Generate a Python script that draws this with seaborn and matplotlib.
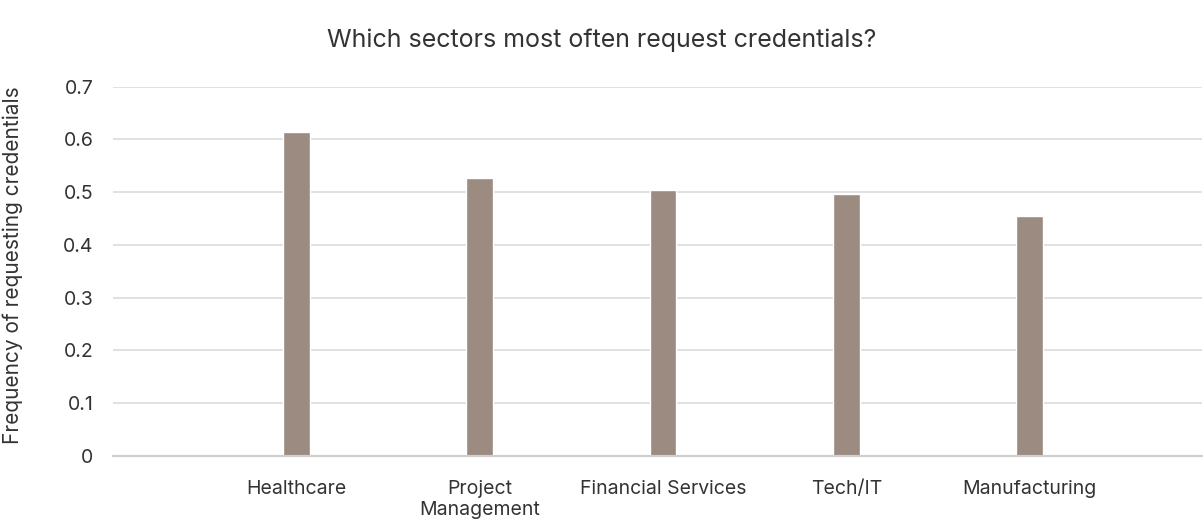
import matplotlib
matplotlib.use("Agg")
import matplotlib.pyplot as plt
import seaborn as sns
import pandas as pd

categories = ["Healthcare", "Project\nManagement", "Financial Services", "Tech/IT", "Manufacturing"]
values = [0.614, 0.527, 0.504, 0.497, 0.454]
y_ticks = [0, 0.1, 0.2, 0.3, 0.4, 0.5, 0.6, 0.7]
y_tick_labels = ["0", "0.1", "0.2", "0.3", "0.4", "0.5", "0.6", "0.7"]

sns.set_style("white")
plt.rcParams["font.family"] = ["Inter", "DejaVu Sans"]

df = pd.DataFrame({"sector": categories, "freq": values})

fig = plt.figure(figsize=(12.03, 5.23), dpi=100)
ax = fig.add_axes([113 / 1203, (523 - 456) / 523, (1202 - 113) / 1203, (456 - 86.7) / 523])

sns.barplot(data=df, x="sector", y="freq", color="#9c8b80", width=0.147,
            saturation=1, ax=ax, zorder=3)

ax.set_xlim(-1.0, 4.94)
ax.set_ylim(0, 0.7)
ax.set_yticks(y_ticks)
ax.set_yticklabels(y_tick_labels)
ax.yaxis.grid(True, color="#dedede", linewidth=1.3, zorder=0)
ax.set_axisbelow(True)
for s in ["top", "right", "left"]:
    ax.spines[s].set_visible(False)
ax.spines["bottom"].set_color("#d0d0d0")
ax.spines["bottom"].set_linewidth(1.6)
ax.spines["bottom"].set_zorder(4)
ax.tick_params(axis="both", length=0, colors="#333333", labelsize=14)
ax.tick_params(axis="y", pad=14)
ax.tick_params(axis="x", pad=17)
for lbl in ax.get_xticklabels():
    lbl.set_linespacing(1.25)
ax.set_xlabel("")
ax.set_ylabel("Frequency of requesting credentials", fontsize=15, color="#333333")
ax.yaxis.set_label_coords(-90 / 1089, 0.517)

fig.text(0.5, 1 - 40 / 523, "Which sectors most often request credentials?",
         ha="center", va="center", fontsize=18, color="#333333")

fig.savefig("out.png", dpi=100)
